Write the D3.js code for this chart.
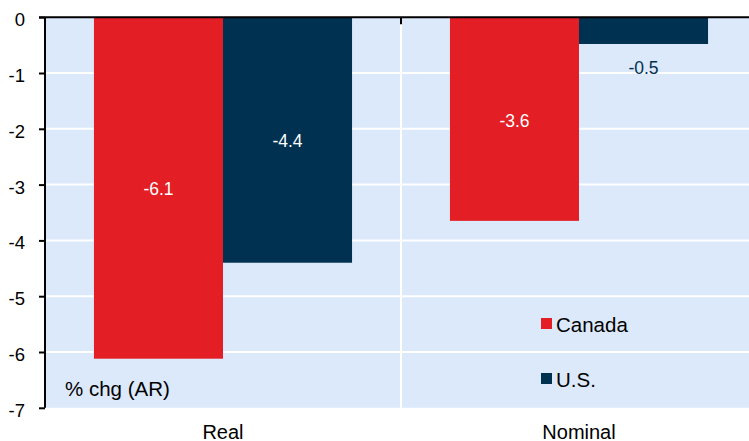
<!DOCTYPE html>
<html>
<head>
<meta charset="utf-8">
<script src="https://cdn.jsdelivr.net/npm/d3@7"></script>
<style>
  body { margin: 0; background: #fff; }
  svg { display: block; font-family: "Liberation Sans", Arial, sans-serif; }
</style>
</head>
<body>
<div id="chart"></div>
<script>
// data
const categories = ['Real', 'Nominal'];
const seriesNames = ['Canada', 'U.S.'];
const canadaVals = [-6.12, -3.65];
const usVals = [-4.4, -0.48];
const canadaLabels = ['-6.1', '-3.6'];
const usLabels = ['-4.4', '-0.5'];
const yTicks = [0, -1, -2, -3, -4, -5, -6, -7];

const width = 749, height = 441;
const colors = {'Canada': '#e31e24', 'U.S.': '#003150'};
const bg = '#dce9fb';

// plot box (right edge runs past the window, as in the original)
const plotL = 45, plotR = 757, plotT = 17.2, plotB = 407.8;

const svg = d3.select('#chart').append('svg')
    .attr('width', width)
    .attr('height', height);

const y = d3.scaleLinear().domain([0, -7]).range([plotT, plotB]);
const x0 = d3.scaleBand().domain(categories).range([plotL, plotR])
    .paddingInner(0.275).paddingOuter(0.1375);
const x1 = d3.scaleBand().domain(seriesNames).range([0, x0.bandwidth()]);

// plot background
svg.append('rect')
    .attr('x', plotL).attr('y', plotT)
    .attr('width', plotR - plotL).attr('height', plotB - plotT)
    .attr('fill', bg);

// horizontal gridlines
svg.append('g').selectAll('line')
    .data(yTicks.filter(d => d !== 0 && d !== -7))
    .join('line')
    .attr('x1', plotL).attr('x2', plotR)
    .attr('y1', d => y(d)).attr('y2', d => y(d))
    .attr('stroke', '#fff').attr('stroke-width', 2);

// category separator
const sep = x0('Nominal') - x0.step() * x0.paddingInner() / 2;
svg.append('line')
    .attr('x1', sep).attr('x2', sep)
    .attr('y1', plotT).attr('y2', plotB)
    .attr('stroke', '#fff').attr('stroke-width', 2);

// rows for bars
const rows = categories.map((c, i) => ({
    cat: c,
    vals: [
        {name: 'Canada', v: canadaVals[i], label: canadaLabels[i]},
        {name: 'U.S.', v: usVals[i], label: usLabels[i]}
    ]
}));

const groups = svg.append('g').selectAll('g')
    .data(rows)
    .join('g')
    .attr('transform', d => `translate(${x0(d.cat)},0)`);

groups.selectAll('rect')
    .data(d => d.vals)
    .join('rect')
    .attr('x', d => x1(d.name))
    .attr('y', y(0))
    .attr('width', x1.bandwidth())
    .attr('height', d => y(d.v) - y(0))
    .attr('fill', d => colors[d.name]);

// value labels: inside the bar when there is room, below otherwise
groups.selectAll('text')
    .data(d => d.vals)
    .join('text')
    .attr('x', d => x1(d.name) + x1.bandwidth() / 2)
    .attr('y', d => {
        const h = y(d.v) - y(0);
        return h > 40 ? (y(0) + y(d.v)) / 2 + 7.5 : y(d.v) + 30.5;
    })
    .attr('text-anchor', 'middle')
    .attr('font-size', 17.5)
    .attr('fill', d => (y(d.v) - y(0) > 40) ? '#fff' : colors[d.name])
    .text(d => d.label);

// y axis
const yAxis = svg.append('g')
    .attr('transform', `translate(${plotL},0)`)
    .call(d3.axisLeft(y).tickValues(yTicks).tickSize(6).tickPadding(14));
yAxis.select('.domain').attr('stroke', '#000').attr('stroke-width', 2)
    .attr('d', `M0,${plotT}V${plotB}`);
yAxis.selectAll('.tick line').attr('stroke', '#000').attr('stroke-width', 2);
yAxis.selectAll('.tick text')
    .attr('font-size', 18.5).attr('fill', '#000')
    .attr('dy', '0.46em')
    .attr('font-family', '"Liberation Sans", Arial, sans-serif')
    .text(d => d === 0 ? '0' : '-' + Math.abs(d));

// zero line along the top with a tick at the category boundary
svg.append('line')
    .attr('x1', plotL - 6).attr('x2', plotR)
    .attr('y1', y(0)).attr('y2', y(0))
    .attr('stroke', '#000').attr('stroke-width', 2);
svg.append('line')
    .attr('x1', sep).attr('x2', sep)
    .attr('y1', y(0)).attr('y2', y(0) + 7)
    .attr('stroke', '#000').attr('stroke-width', 2);

// category labels at the bottom
svg.append('g').selectAll('text')
    .data(categories)
    .join('text')
    .attr('x', d => x0(d) + x0.bandwidth() / 2)
    .attr('y', 439)
    .attr('text-anchor', 'middle')
    .attr('font-size', 20)
    .attr('fill', '#000')
    .text(d => d);

// unit note
svg.append('text')
    .attr('x', 65).attr('y', 396)
    .attr('font-size', 20.5)
    .attr('fill', '#000')
    .text('% chg (AR)');

// legend
const legend = svg.append('g').selectAll('g')
    .data(seriesNames)
    .join('g')
    .attr('transform', (d, i) => `translate(541,${318 + i * 55})`);
legend.append('rect')
    .attr('width', 11).attr('height', 11)
    .attr('fill', d => colors[d]);
legend.append('text')
    .attr('x', 15).attr('y', 13.5)
    .attr('font-size', 20.5)
    .attr('fill', '#000')
    .text(d => d);
</script>
</body>
</html>
